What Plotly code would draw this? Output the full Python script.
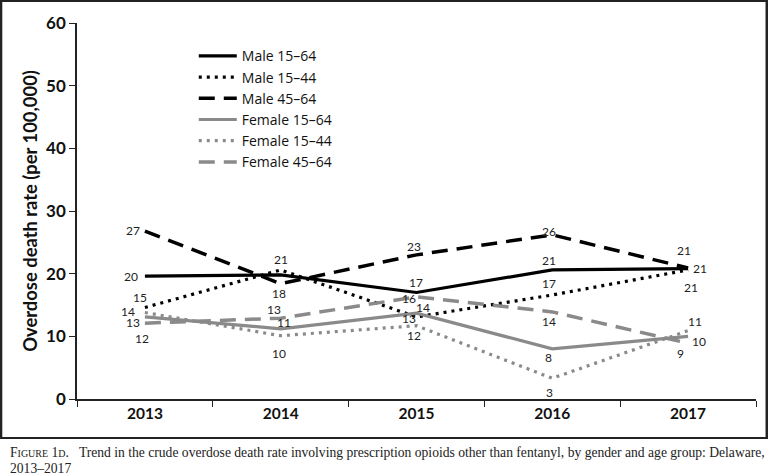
import plotly.graph_objects as go

years = ["2013", "2014", "2015", "2016", "2017"]
series_names = ["Male 15–64", "Male 15–44", "Male 45–64", "Female 15–64", "Female 15–44", "Female 45–64"]
male_15_64 = [19.6, 19.8, 17.0, 20.6, 20.8]
male_15_44 = [14.6, 20.6, 13.1, 16.6, 20.6]
male_45_64 = [26.8, 18.4, 23.0, 26.2, 20.9]
female_15_64 = [13.1, 11.2, 13.7, 8.0, 10.0]
female_15_44 = [13.8, 10.1, 11.7, 3.3, 10.9]
female_45_64 = [12.1, 12.9, 16.3, 13.9, 8.9]
# printed data labels (blank where the chart shows none)
labels_m1564 = ["20", "", "17", "21", "21"]
labels_m1544 = ["15", "21", "13", "17", "21"]
labels_m4564 = ["27", "18", "23", "26", "21"]
labels_f1564 = ["13", "11", "14", "8", "10"]
labels_f1544 = ["14", "10", "12", "3", "11"]
labels_f4564 = ["12", "13", "16", "14", "9"]

values = [male_15_64, male_15_44, male_45_64, female_15_64, female_15_44, female_45_64]
labels = [labels_m1564, labels_m1544, labels_m4564, labels_f1564, labels_f1544, labels_f4564]

# styling
BLACK = "#000000"
GRAY = "#8a8a8a"
styles = [
    dict(color=BLACK, width=3.2, dash="solid"),
    dict(color=BLACK, width=3.2, dash="3px,5px"),
    dict(color=BLACK, width=3.5, dash="16px,9px"),
    dict(color=GRAY, width=3.2, dash="solid"),
    dict(color=GRAY, width=3.2, dash="3px,5px"),
    dict(color=GRAY, width=3.5, dash="16px,9px"),
]
# label offsets in px (dx, dy down-positive)
offsets = [
    [(-14, 0), (0, 0), (-1, -10), (-3, -9), (12, 0)],
    [(-5, -10), (0, -10), (-8, 2), (-3, -11), (3, 18)],
    [(-12, -1), (-2, 10), (-3, -8), (-3, -3), (-4, -18)],
    [(-12, 6), (3, -6), (6, -6), (-4, 9), (11, 5)],
    [(-17, -1), (-2, 18), (-3, 10), (-3, 14), (7, -9)],
    [(-3, 15), (-7, -9), (-8, 2), (-3, 10), (-8, 10)],
]

fig = go.Figure()
for name, vals, st in zip(series_names, values, styles):
    fig.add_trace(go.Scatter(x=years, y=vals, mode="lines", name=name, line=st,
                             legendgroup=name))

annotations = []
for vals, labs, offs in zip(values, labels, offsets):
    for i, (v, lab, (dx, dy)) in enumerate(zip(vals, labs, offs)):
        if lab:
            annotations.append(dict(x=i, y=v, xref="x", yref="y", text=lab, showarrow=False,
                                    xanchor="center", yanchor="middle",
                                    xshift=dx, yshift=-dy,
                                    font=dict(family="Lato, Open Sans, sans-serif", size=12, color="#222")))

SC = "font-size:10px"
annotations.append(dict(
    xref="paper", yref="paper", x=-0.102, y=-0.143, xanchor="left", yanchor="middle", showarrow=False,
    text=f"F<span style='{SC}'>IGURE</span> 1<span style='{SC}'>D</span>.   Trend in the crude overdose death rate involving prescription opioids other than fentanyl, by gender and age group: Delaware,",
    font=dict(family="Liberation Serif, Times New Roman, serif", size=13.6, color="#222")))
annotations.append(dict(
    xref="paper", yref="paper", x=-0.102, y=-0.186, xanchor="left", yanchor="middle", showarrow=False,
    text="2013–2017",
    font=dict(family="Liberation Serif, Times New Roman, serif", size=13.6, color="#222")))

fig.update_layout(
    width=772, height=476,
    margin=dict(l=77, r=16, t=23, b=77, autoexpand=False),
    paper_bgcolor="white", plot_bgcolor="white",
    font=dict(family="Lato, Open Sans, sans-serif", color="#111"),
    showlegend=True,
    legend=dict(x=0.172, y=0.954, xanchor="left", yanchor="top",
                font=dict(family="Open Sans, Lato, sans-serif", size=14, color="#111"), itemwidth=38,
                bgcolor="rgba(0,0,0,0)", tracegroupgap=0),
    annotations=annotations,
    xaxis=dict(type="category", range=[-0.5, 4.5], tickson="boundaries", ticks="outside", ticklen=6,
               tickcolor="#222", showline=True, linecolor="#222", linewidth=1.5, showgrid=False,
               automargin=False,
               tickfont=dict(size=15.5, color="#111", weight="bold")),
    yaxis=dict(range=[0, 60], dtick=10, ticks="outside", ticklen=6, tickcolor="#222",
               showline=True, linecolor="#222", linewidth=1.5, showgrid=False, zeroline=False,
               automargin=False,
               tickfont=dict(size=17, color="#111", weight="bold"),
               title=dict(text="Overdose death rate (per 100,000)", standoff=4,
                          font=dict(size=18.4, color="#111", weight="bold"))),
)

# outer frame of the chart image, in paper coordinates
fig.add_shape(type="rect", xref="paper", yref="paper", x0=-0.1115, x1=1.0155, y0=-0.1037, y1=1.0585,
              line=dict(color="#222222", width=2), fillcolor="rgba(0,0,0,0)", layer="above")

post = (
    "document.body.style.margin='0';"
    "var fr=document.createElement('div');"
    "fr.style.cssText='position:absolute;left:0;top:0;width:768px;height:439px;"
    "border:2px solid #222;box-sizing:border-box;pointer-events:none;';"
    "document.body.appendChild(fr);"
)
fig.write_html("out.html", config={"displayModeBar": False}, post_script=post)
